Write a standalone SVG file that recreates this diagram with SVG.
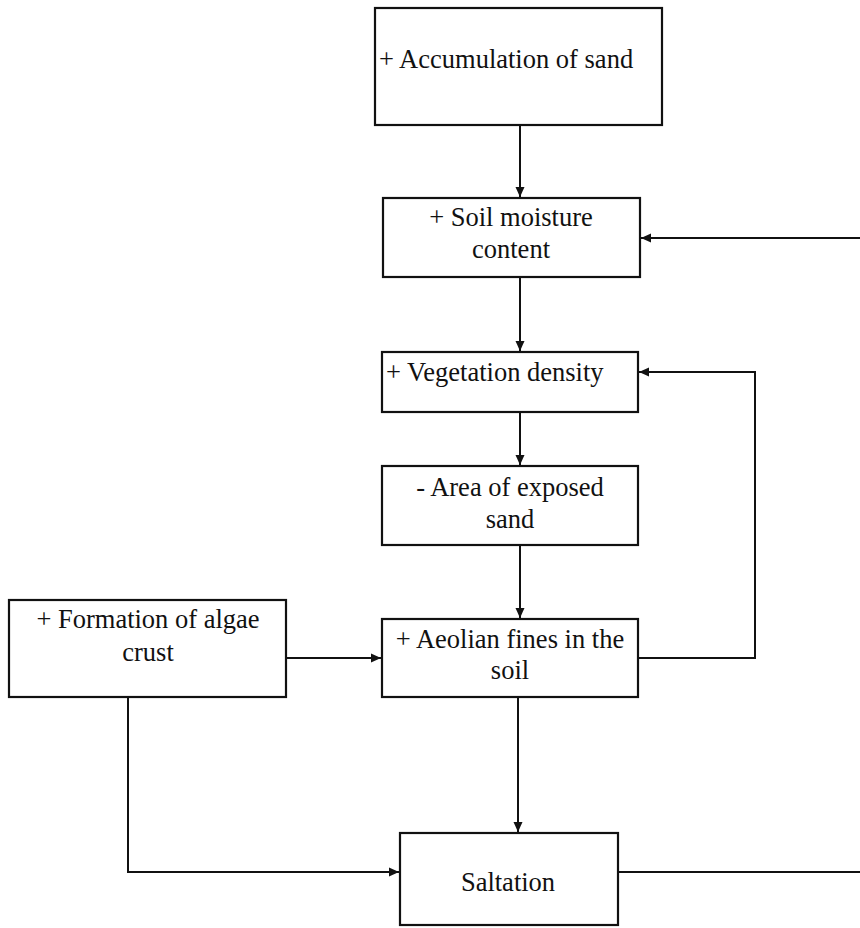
<svg xmlns="http://www.w3.org/2000/svg" width="860" height="928" viewBox="0 0 860 928">
<defs>
<marker id="ah" markerWidth="11" markerHeight="11" refX="10" refY="5.5" orient="auto" markerUnits="userSpaceOnUse">
<path d="M0,1 L10,5.5 L0,10 Z" fill="#111"/>
</marker>
<style>
.box{fill:#fff;stroke:#111;stroke-width:2.2}
.t{font-family:"Liberation Serif","Times New Roman",serif;font-size:26.5px;fill:#111}
.c{text-anchor:middle}
.ln{fill:none;stroke:#111;stroke-width:2}
</style>
</defs>
<rect width="860" height="928" fill="#fff"/>
<g id="connectors">
<line class="ln" x1="520" y1="125" x2="520" y2="197" marker-end="url(#ah)"/>
<line class="ln" x1="860" y1="238" x2="641" y2="238" marker-end="url(#ah)"/>
<line class="ln" x1="520" y1="277" x2="520" y2="351" marker-end="url(#ah)"/>
<line class="ln" x1="520" y1="412" x2="520" y2="465" marker-end="url(#ah)"/>
<line class="ln" x1="520" y1="545" x2="520" y2="618" marker-end="url(#ah)"/>
<polyline class="ln" points="638,658 755,658 755,372 639,372" marker-end="url(#ah)"/>
<line class="ln" x1="286" y1="658" x2="381" y2="658" marker-end="url(#ah)"/>
<line class="ln" x1="518" y1="697" x2="518" y2="832" marker-end="url(#ah)"/>
<polyline class="ln" points="128,697 128,872 399,872" marker-end="url(#ah)"/>
<line class="ln" x1="618" y1="872" x2="860" y2="872"/>
</g>
<g id="accumulation">
<rect class="box" x="375" y="8" width="287" height="117"/>
<text class="t" x="379" y="68">+ Accumulation of sand</text>
</g>
<g id="soil-moisture">
<rect class="box" x="383" y="198" width="257" height="79"/>
<text class="t c" x="511" y="226">+ Soil moisture</text>
<text class="t c" x="511" y="258">content</text>
</g>
<g id="vegetation">
<rect class="box" x="382" y="352" width="256" height="60"/>
<text class="t" x="386" y="381">+ Vegetation density</text>
</g>
<g id="exposed-sand">
<rect class="box" x="382" y="466" width="256" height="79"/>
<text class="t c" x="510" y="496">- Area of exposed</text>
<text class="t c" x="510" y="528">sand</text>
</g>
<g id="algae-crust">
<rect class="box" x="9" y="600" width="277" height="97"/>
<text class="t c" x="148" y="628">+ Formation of algae</text>
<text class="t c" x="148" y="661">crust</text>
</g>
<g id="aeolian-fines">
<rect class="box" x="382" y="619" width="256" height="78"/>
<text class="t c" x="510" y="648">+ Aeolian fines in the</text>
<text class="t c" x="510" y="679">soil</text>
</g>
<g id="saltation">
<rect class="box" x="400" y="833" width="218" height="92"/>
<text class="t c" x="508" y="891">Saltation</text>
</g>
</svg>
